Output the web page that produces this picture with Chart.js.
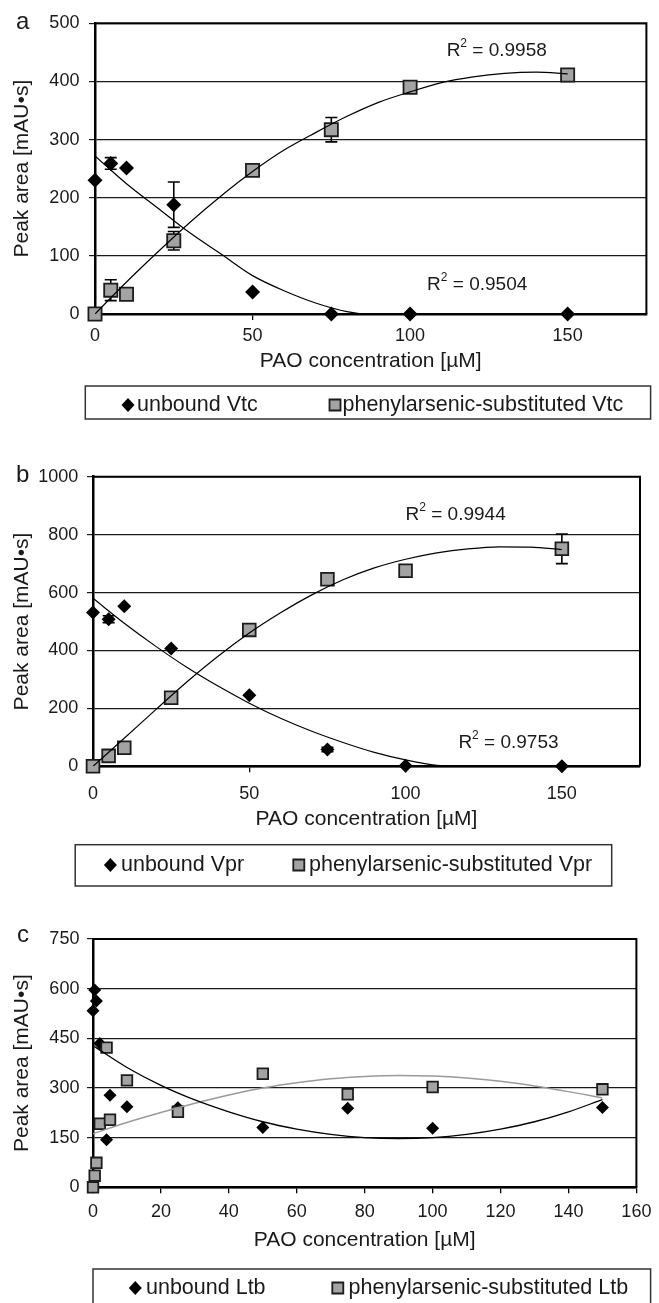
<!DOCTYPE html>
<html>
<head>
<meta charset="utf-8">
<script src="https://cdn.jsdelivr.net/npm/chart.js@4.4.0/dist/chart.umd.min.js"></script>
<style>
  html, body { margin: 0; padding: 0; background: #fff; }
  body { width: 659px; height: 1303px; position: relative; overflow: hidden; }
  .panel { position: absolute; left: 0; width: 659px; }
  .panel canvas { display: block; }
</style>
</head>
<body>
<div class="panel" style="top:0;height:430px"><canvas id="chartA"></canvas></div>
<div class="panel" style="top:436px;height:454px"><canvas id="chartB"></canvas></div>
<div class="panel" style="top:896px;height:407px"><canvas id="chartC"></canvas></div>
<script>
// panel a - Vtc
const concA = [0, 5, 10, 25, 50, 75, 100, 150];
const unboundVtc = [230, 259, 251, 188, 38, 0, 0, 0];
const unboundVtcErr = [0, 10, 0, 39, 0, 0, 0, 0];
const phenylVtc = [0, 41, 34, 126, 247, 317, 390, 411];
const phenylVtcErr = [0, 18, 0, 16, 0, 21, 0, 0];
const unboundVtcFitX = [0, 10, 20, 30, 40, 50, 60, 70, 80, 85];
const unboundVtcFit = [272, 224, 182, 140, 103, 66, 40, 19, 4, 0];
const phenylVtcFitX = [0, 10, 20, 30, 40, 50, 60, 70, 80, 90, 100, 110, 120, 130, 140, 150];
const phenylVtcFit = [0, 55, 107, 157, 203, 245, 282, 312, 340, 364, 382, 398, 408, 414, 416, 413];

// panel b - Vpr
const concB = [0, 5, 10, 25, 50, 75, 100, 150];
const unboundVpr = [531, 508, 553, 407, 245, 58, 2, 0];
const unboundVprErr = [0, 12, 0, 0, 0, 8, 0, 0];
const phenylVpr = [0, 36, 64, 237, 471, 646, 675, 751];
const phenylVprErr = [0, 0, 0, 0, 0, 0, 0, 51];
const unboundVprFitX = [0, 10, 20, 30, 40, 50, 60, 70, 80, 90, 100, 110, 115];
const unboundVprFit = [580, 494, 415, 342, 277, 218, 166, 121, 82, 48, 22, 3, 0];
const phenylVprFitX = [0, 10, 20, 30, 40, 50, 60, 70, 80, 90, 100, 110, 120, 130, 140, 150];
const phenylVprFit = [0, 97, 195, 291, 380, 460, 530, 592, 644, 685, 715, 737, 751, 758, 757, 748];

// panel c - Ltb
const concC = [0, 0.5, 1, 2, 4, 5, 10, 25, 50, 75, 100, 150];
const unboundLtb = [533, 596, 563, 434, 144, 278, 243, 240, 181, 239, 178, 241];
const phenylLtb = [0, 35, 74, 192, 422, 204, 323, 228, 343, 281, 303, 296];
const ltbFitX = [0, 10, 20, 30, 40, 50, 60, 70, 80, 90, 100, 110, 120, 130, 140, 150];
const unboundLtbFit = [428, 362, 308, 264, 228, 198, 176, 160, 150, 147, 150, 160, 176, 198, 228, 265];
const phenylLtbFit = [162, 196, 226, 254, 279, 300, 316, 328, 335, 338, 336, 330, 320, 306, 289, 270];

const TEXT = '#1a1a1a';
const FONT = '"Liberation Sans", Arial, sans-serif';
Chart.defaults.font.family = FONT;
Chart.defaults.color = TEXT;

const pts = (xs, ys) => xs.map((x, i) => ({ x, y: ys[i] }));

const fitLine = (data, color, width) => ({
    data, showLine: true, borderColor: color, borderWidth: width,
    pointRadius: 0, pointHoverRadius: 0, cubicInterpolationMode: 'monotone', fill: false, order: 0
});
const diamonds = (label, data, errors, r) => ({
    label, data, errors, pointStyle: 'rectRot', pointRadius: r, pointHoverRadius: r,
    backgroundColor: '#000', borderColor: '#000', borderWidth: 0, showLine: false, clip: false, order: 2
});
const squares = (label, data, errors, r) => ({
    label, data, errors, pointStyle: 'rect', pointRadius: r, pointHoverRadius: r,
    backgroundColor: '#a3a3a3', borderColor: '#1c1c1c', borderWidth: 1.8, showLine: false, clip: false, order: 1
});

// frame, error bars, R² labels, panel letter and the boxed legend
const panelDecor = {
    id: 'panelDecor',
    beforeDatasetsDraw(chart, args, opts) {
        const { ctx, chartArea: a, scales: { x, y } } = chart;
        ctx.save();
        ctx.strokeStyle = '#000';
        ctx.lineWidth = 2;
        ctx.beginPath();
        ctx.moveTo(a.left, a.top);
        ctx.lineTo(a.right, a.top);
        ctx.lineTo(a.right, a.bottom);
        ctx.stroke();

        ctx.lineWidth = 1.6;
        chart.data.datasets.forEach(ds => {
            if (!ds.errors) return;
            ds.data.forEach((p, i) => {
                const e = ds.errors[i];
                if (!e) return;
                const px = x.getPixelForValue(p.x);
                const top = y.getPixelForValue(p.y + e);
                const bot = y.getPixelForValue(p.y - e);
                ctx.beginPath();
                ctx.moveTo(px, top); ctx.lineTo(px, bot);
                ctx.moveTo(px - 6, top); ctx.lineTo(px + 6, top);
                ctx.moveTo(px - 6, bot); ctx.lineTo(px + 6, bot);
                ctx.stroke();
            });
        });
        ctx.restore();
    },
    afterDraw(chart, args, opts) {
        const { ctx, scales: { x, y } } = chart;
        ctx.save();
        ctx.fillStyle = TEXT;

        // panel letter
        ctx.textAlign = 'left';
        ctx.textBaseline = 'alphabetic';
        ctx.font = '24px ' + FONT;
        ctx.fillText(opts.letter, opts.letterAt[0], opts.letterAt[1]);

        // R² labels
        ctx.textBaseline = 'middle';
        (opts.fits || []).forEach(f => {
            let px = x.getPixelForValue(f.x);
            const py = y.getPixelForValue(f.y);
            ctx.font = '19px ' + FONT;
            ctx.fillText('R', px, py);
            px += ctx.measureText('R').width;
            ctx.font = '12px ' + FONT;
            ctx.fillText('2', px, py - 7);
            px += ctx.measureText('2').width;
            ctx.font = '19px ' + FONT;
            ctx.fillText(' = ' + f.text, px, py);
        });

        // legend box
        const lg = opts.legend;
        ctx.strokeStyle = '#333';
        ctx.lineWidth = 1.5;
        ctx.strokeRect(lg.box[0], lg.box[1], lg.box[2] - lg.box[0], lg.box[3] - lg.box[1]);
        ctx.font = '21.5px ' + FONT;
        lg.items.forEach(it => {
            const ds = chart.data.datasets[it.dataset];
            ctx.beginPath();
            if (ds.pointStyle === 'rectRot') {
                ctx.moveTo(it.mx - 6.5, lg.y);
                ctx.lineTo(it.mx, lg.y - 7);
                ctx.lineTo(it.mx + 6.5, lg.y);
                ctx.lineTo(it.mx, lg.y + 7);
                ctx.closePath();
                ctx.fillStyle = ds.backgroundColor;
                ctx.fill();
            } else {
                ctx.rect(it.mx - 5.5, lg.y - 5.5, 11, 11);
                ctx.fillStyle = ds.backgroundColor;
                ctx.fill();
                ctx.strokeStyle = ds.borderColor;
                ctx.lineWidth = 1.8;
                ctx.stroke();
            }
            ctx.fillStyle = TEXT;
            ctx.fillText(ds.label, it.tx, lg.y);
        });
        ctx.restore();
    }
};

function axes(p) {
    return {
        x: {
            type: 'linear', min: 0, max: p.xMax,
            ticks: { stepSize: p.xStep, includeBounds: false, padding: p.xTickPad, color: TEXT, font: { size: 18 } },
            grid: { drawOnChartArea: false, tickLength: 6, color: '#000', lineWidth: 1.3 },
            border: { color: '#000', width: 2.5 },
            title: { display: true, text: 'PAO concentration [µM]', color: TEXT, font: { size: 21 }, padding: { top: 0, bottom: 4.7 } },
            afterFit: s => { s.height = p.xAxisH; }
        },
        y: {
            type: 'linear', min: 0, max: p.yMax,
            ticks: { stepSize: p.yStep, padding: p.yTickPad, color: TEXT, font: { size: 18 }, format: { useGrouping: false } },
            grid: { color: '#1a1a1a', lineWidth: 1.2, tickLength: 6 },
            border: { color: '#000', width: 2.5 },
            title: { display: true, text: 'Peak area [mAU•s]', color: TEXT, font: { size: 21 }, padding: { top: 9.4, bottom: 0 } },
            afterFit: s => { s.width = p.yAxisW; }
        }
    };
}

function panel(canvasId, datasets, p, decor) {
    return new Chart(document.getElementById(canvasId), {
        type: 'scatter',
        data: { datasets },
        options: {
            responsive: true, maintainAspectRatio: false, animation: false,
            layout: { padding: p.padding },
            scales: axes(p),
            plugins: { legend: { display: false }, tooltip: { enabled: false }, panelDecor: decor }
        },
        plugins: [panelDecor]
    });
}

panel('chartA', [
    fitLine(pts(phenylVtcFitX, phenylVtcFit), '#000', 1.2),
    fitLine(pts(unboundVtcFitX, unboundVtcFit), '#000', 1.2),
    diamonds('unbound Vtc', pts(concA, unboundVtc), unboundVtcErr, 7.5),
    squares('phenylarsenic-substituted Vtc', pts(concA, phenylVtc), phenylVtcErr, 9.3)
], {
    xMax: 175, xStep: 50, yMax: 500, yStep: 100, xTickPad: 5.5, yTickPad: 9.6, xAxisH: 65, yAxisW: 95,
    padding: { top: 23.3, right: 12.6, bottom: 51, left: 0 }
}, {
    letter: 'a', letterAt: [16, 29.3],
    fits: [{ x: 111.6, y: 453, text: '0.9958' }, { x: 105.4, y: 50, text: '0.9504' }],
    legend: { box: [85.3, 386, 650.6, 419], y: 405, items: [{ dataset: 2, mx: 128, tx: 137 }, { dataset: 3, mx: 335, tx: 342.5 }] }
});

panel('chartB', [
    fitLine(pts(phenylVprFitX, phenylVprFit), '#000', 1.2),
    fitLine(pts(unboundVprFitX, unboundVprFit), '#000', 1.2),
    diamonds('unbound Vpr', pts(concB, unboundVpr), unboundVprErr, 7),
    squares('phenylarsenic-substituted Vpr', pts(concB, phenylVpr), phenylVprErr, 9)
], {
    xMax: 175, xStep: 50, yMax: 1000, yStep: 200, xTickPad: 10.6, yTickPad: 8.8, xAxisH: 70, yAxisW: 93,
    padding: { top: 40.7, right: 19, bottom: 53.7, left: 0 }
}, {
    letter: 'b', letterAt: [16, 45.7],
    fits: [{ x: 100, y: 868, text: '0.9944' }, { x: 116.9, y: 80, text: '0.9753' }],
    legend: { box: [75.2, 408.7, 611.7, 450], y: 429, items: [{ dataset: 2, mx: 110.4, tx: 121 }, { dataset: 3, mx: 298.8, tx: 309 }] }
});

panel('chartC', [
    fitLine(pts(ltbFitX, unboundLtbFit), '#000', 1.3),
    fitLine(pts(ltbFitX, phenylLtbFit), '#9a9a9a', 1.5),
    diamonds('unbound Ltb', pts(concC, unboundLtb), null, 6.5),
    squares('phenylarsenic-substituted Ltb', pts(concC, phenylLtb), null, 7.5)
], {
    xMax: 160, xStep: 20, yMax: 750, yStep: 150, xTickPad: 7.6, yTickPad: 7.6, xAxisH: 70, yAxisW: 93,
    padding: { top: 43, right: 16, bottom: 45.7, left: 0 }
}, {
    letter: 'c', letterAt: [17, 45.7],
    fits: [],
    legend: { box: [93, 373, 650.6, 414], y: 392, items: [{ dataset: 2, mx: 135.3, tx: 146 }, { dataset: 3, mx: 337.8, tx: 348.5 }] }
});
</script>
</body>
</html>
